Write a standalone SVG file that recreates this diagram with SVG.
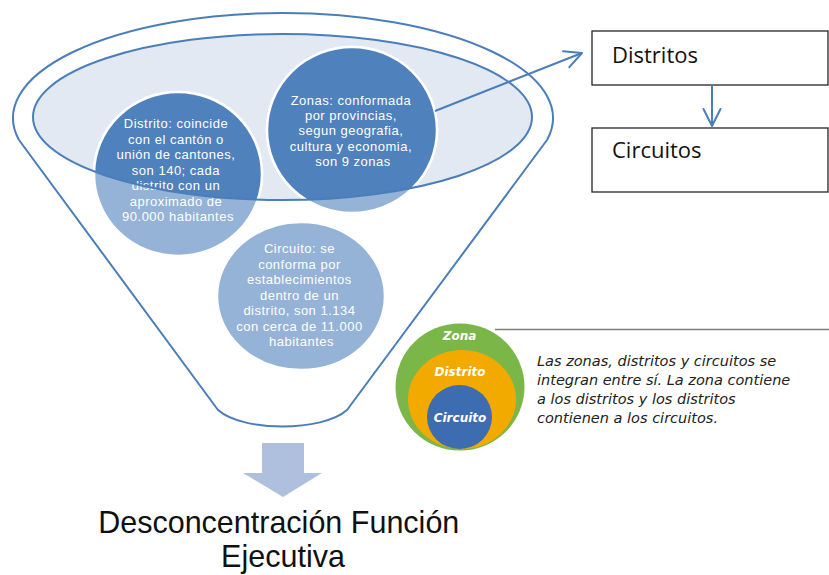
<svg xmlns="http://www.w3.org/2000/svg" width="829" height="575" viewBox="0 0 829 575">
  <style>
    .outline { fill: none; stroke: #4A7EBB; stroke-width: 2; }
    .funnel { fill: #FFFFFF; stroke: #4A7EBB; stroke-width: 2; stroke-linejoin: round; }
    .inner-fill { fill: #E3E9F3; stroke: none; }
    .light { fill: #95B3D7; stroke: #FFFFFF; stroke-width: 2.5; }
    .dark { fill: #4F81BD; stroke: #FFFFFF; stroke-width: 2.5; }
    .ctext { font-family: "Liberation Sans", Arial, sans-serif; font-size: 13px; letter-spacing: 0.5px; fill: #FFFFFF; text-anchor: middle; }
    .box { fill: #FFFFFF; stroke: #262626; stroke-width: 1.3; }
    .btext { font-family: "Open Sans", "Liberation Sans", sans-serif; font-size: 22px; fill: #111111; }
    .conn { fill: none; stroke: #4A7EBB; stroke-width: 2; }
    .leg-label { font-family: "DejaVu Sans", sans-serif; font-weight: bold; font-style: italic; font-size: 12px; fill: #FFFFFF; text-anchor: middle; }
    .leg-text { font-family: "DejaVu Sans", sans-serif; font-style: italic; font-size: 14.5px; fill: #222222; }
    .title { font-family: "Liberation Sans", Arial, sans-serif; font-size: 30.5px; fill: #111111; text-anchor: middle; }
  </style>
  <defs>
    <clipPath id="innerClip">
      <ellipse cx="282.5" cy="117" rx="249.5" ry="83"/>
    </clipPath>
    <marker id="openArrow" markerUnits="userSpaceOnUse" viewBox="-20 -12 24 24" markerWidth="24" markerHeight="24" refX="0" refY="0" orient="auto">
      <path d="M-17,-8.5 L0,0 L-17,8.5" fill="none" stroke="#4A7EBB" stroke-width="2" stroke-linejoin="round" stroke-linecap="round"/>
    </marker>
  </defs>

  <g id="funnel">
    <path class="funnel" d="M 218,410 L 19,140 A 270 105 0 1 1 547,140 L 347,410 C 322,432 243,432 218,410 Z"/>
    <ellipse class="inner-fill" cx="282.5" cy="117" rx="249.5" ry="83"/>
  </g>

  <g id="node-distrito">
    <ellipse class="light" cx="178" cy="174" rx="84" ry="82"/>
    <ellipse class="dark" cx="178" cy="174" rx="84" ry="82" clip-path="url(#innerClip)"/>
    <text class="ctext">
      <tspan x="178" y="128">Distrito: coincide</tspan>
      <tspan x="178" y="143.5">con el cantón o</tspan>
      <tspan x="178" y="159">unión de cantones,</tspan>
      <tspan x="178" y="174.5">son 140; cada</tspan>
      <tspan x="178" y="190">distrito con un</tspan>
      <tspan x="178" y="205.5">aproximado de</tspan>
      <tspan x="178" y="221">90.000 habitantes</tspan>
    </text>
  </g>

  <g id="node-zonas">
    <ellipse class="light" cx="352" cy="130" rx="85" ry="83"/>
    <ellipse class="dark" cx="352" cy="130" rx="85" ry="83" clip-path="url(#innerClip)"/>
    <text class="ctext">
      <tspan x="353" y="105">Zonas: conformada</tspan>
      <tspan x="353" y="120.2">por provincias,</tspan>
      <tspan x="353" y="135.4">segun geografia,</tspan>
      <tspan x="353" y="150.6">cultura y economia,</tspan>
      <tspan x="353" y="165.8">son 9 zonas</tspan>
    </text>
  </g>

  <g id="node-circuito">
    <ellipse class="light" cx="301" cy="296" rx="84" ry="74"/>
    <text class="ctext">
      <tspan x="301.5" y="253">Circuito: se</tspan>
      <tspan x="301.5" y="268.5">conforma por</tspan>
      <tspan x="301.5" y="284">establecimientos</tspan>
      <tspan x="301.5" y="299.5">dentro de un</tspan>
      <tspan x="301.5" y="315">distrito, son 1.134</tspan>
      <tspan x="301.5" y="330.5">con cerca de 11.000</tspan>
      <tspan x="301.5" y="346">habitantes</tspan>
    </text>
  </g>

  <g id="funnel-rim">
    <ellipse class="outline" cx="282.5" cy="117" rx="249.5" ry="83"/>
  </g>

  <g id="box-distritos">
    <rect class="box" x="592" y="31" width="236" height="54"/>
    <text class="btext" x="612" y="63">Distritos</text>
  </g>

  <g id="box-circuitos">
    <rect class="box" x="592" y="128" width="236" height="64"/>
    <text class="btext" x="612" y="158">Circuitos</text>
  </g>

  <g id="connectors">
    <line class="conn" x1="435" y1="111" x2="582" y2="53" marker-end="url(#openArrow)"/>
    <line class="conn" x1="712" y1="85" x2="712" y2="126" marker-end="url(#openArrow)"/>
    <polygon id="block-arrow" points="262,443 304,443 304,473 322,473 283,497 243,473 262,473" fill="#AFC0DE"/>
  </g>

  <g id="legend">
    <line x1="495" y1="329.5" x2="829" y2="329.5" stroke="#7F7F7F" stroke-width="1.5"/>
    <ellipse cx="460" cy="387" rx="64.5" ry="63.5" fill="#7AB648"/>
    <ellipse cx="462" cy="399.5" rx="54" ry="49.5" fill="#F2A900"/>
    <ellipse cx="459.5" cy="417" rx="32.5" ry="32" fill="#3D6CB0"/>
    <text class="leg-label" x="459.5" y="340">Zona</text>
    <text class="leg-label" x="460" y="376">Distrito</text>
    <text class="leg-label" x="460" y="421.5">Circuito</text>
    <text class="leg-text">
      <tspan x="537" y="365.5">Las zonas, distritos y circuitos se</tspan>
      <tspan x="537" y="384.5">integran entre sí. La zona contiene</tspan>
      <tspan x="537" y="403.5">a los distritos y los distritos</tspan>
      <tspan x="537" y="422.5">contienen a los circuitos.</tspan>
    </text>
  </g>

  <g id="title">
    <text class="title">
      <tspan x="283" y="533">Desconcentración Función</tspan>
      <tspan x="283" y="567">Ejecutiva</tspan>
    </text>
  </g>
</svg>
